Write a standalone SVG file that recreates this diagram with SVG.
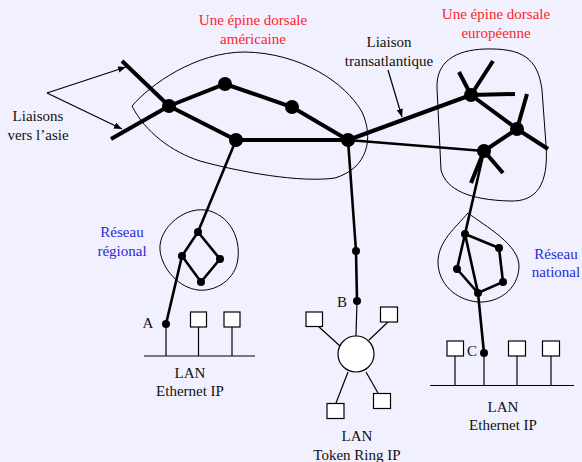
<svg xmlns="http://www.w3.org/2000/svg" width="582" height="462" viewBox="0 0 582 462">
<defs>
<style>
text{font-family:"Liberation Serif","Times New Roman",serif;font-size:15px;fill:#111;text-anchor:middle}
.red{fill:#ff1f1f}
.blue{fill:#2a2ad6}
.bb{stroke:#000;stroke-width:4;stroke-linecap:butt;fill:none}
.md{stroke:#000;stroke-width:2.6;fill:none}
.th{stroke:#000;stroke-width:1.2;fill:none}
.blob{stroke:#000;stroke-width:1;fill:none}
.box{stroke:#000;stroke-width:1.2;fill:#fff}
.big{fill:#000}
</style>
<marker id="ah" viewBox="0 0 10 10" refX="10" refY="5" markerWidth="8" markerHeight="8" orient="auto" markerUnits="userSpaceOnUse">
<path d="M0,1 L10,5 L0,9 Z" fill="#000"/>
</marker>
</defs>
<rect x="0" y="0" width="582" height="462" fill="#f0f0fe"/>

<g id="labels">
<text class="red" x="253" y="25">Une épine dorsale</text>
<text class="red" x="253" y="44">américaine</text>
<text class="red" x="496" y="19">Une épine dorsale</text>
<text class="red" x="496" y="38">européenne</text>
<text x="389" y="47">Liaison</text>
<text x="389" y="66">transatlantique</text>
<text x="38" y="121">Liaisons</text>
<text x="38" y="140">vers l’asie</text>
<text class="blue" x="122" y="237">Réseau</text>
<text class="blue" x="122" y="256">régional</text>
<text class="blue" x="556" y="259">Réseau</text>
<text class="blue" x="556" y="277">national</text>
</g>

<g id="american-backbone">
<path class="blob" d="M132,106 C150,85 195,52 245,52 C300,53 345,82 362,112 C374,138 368,168 335,178 C300,183 240,172 200,161 C172,152 145,132 132,106 Z"/>
</g>
<g id="european-backbone">
<path class="blob" d="M437,88 C436,62 455,50 485,49 C522,48 538,58 542,90 L546,145 C549,185 536,202 510,201 C470,200 446,190 441,170 Z"/>
</g>
<g id="regional-network">
<path class="blob" d="M210,211 C232,218 240,240 238,258 C236,280 215,292 198,290 C180,288 162,270 160,250 C158,228 186,204 210,211 Z"/>
</g>
<g id="national-network">
<path class="blob" d="M468,213 C485,226 520,245 519,267 C518,290 498,303 478,302 C455,300 438,283 438,262 C438,242 455,228 468,213 Z"/>
</g>

<g id="connectors">
<line class="bb" x1="122" y1="61" x2="169" y2="106"/>
<line class="bb" x1="111" y1="139" x2="169" y2="106"/>
<line class="th" x1="47" y1="93" x2="126" y2="67" marker-end="url(#ah)"/>
<line class="th" x1="47" y1="93" x2="122" y2="129" marker-end="url(#ah)"/>
<polyline class="bb" points="169,106 225,84 292,107 348,140"/>
<polyline class="bb" points="169,106 236,140 348,140"/>
<line class="bb" x1="348" y1="140" x2="471" y2="95"/>
<line class="md" x1="348" y1="140" x2="484" y2="151"/>
<line class="th" x1="388" y1="70" x2="402" y2="117" marker-end="url(#ah)"/>
<polyline class="bb" points="471,95 517,129 484,151"/>
<line class="bb" x1="471" y1="95" x2="459" y2="72"/>
<line class="bb" x1="471" y1="95" x2="493" y2="61"/>
<line class="bb" x1="471" y1="95" x2="515" y2="94"/>
<line class="bb" x1="517" y1="129" x2="527" y2="94"/>
<line class="bb" x1="517" y1="129" x2="548" y2="149"/>
<line class="bb" x1="484" y1="151" x2="503" y2="173"/>
<line class="bb" x1="484" y1="151" x2="471" y2="183"/>
<polyline class="md" points="236,140 198,232 182,256 166,324"/>
<polyline class="md" points="198,232 220,259 201,282 182,256"/>
<polyline class="md" points="348,140 356,251 357,301"/>
<line class="th" x1="357" y1="301" x2="356" y2="336"/>
<polyline class="md" points="484,151 465,234 478,293 484,353"/>
<polyline class="md" points="465,234 499,248 503,282 478,293 457,269 465,234"/>
<line class="th" x1="144" y1="356" x2="255" y2="356"/>
<line class="th" x1="166" y1="324" x2="166" y2="356"/>
<line class="th" x1="198.5" y1="327" x2="198.5" y2="356"/>
<line class="th" x1="232" y1="327" x2="232" y2="356"/>
<line class="th" x1="318" y1="326" x2="340" y2="346"/>
<line class="th" x1="388" y1="322" x2="369" y2="340"/>
<line class="th" x1="336" y1="403" x2="348" y2="372"/>
<line class="th" x1="378" y1="393" x2="366" y2="372"/>
<line class="th" x1="430" y1="385.5" x2="574" y2="385.5"/>
<line class="th" x1="455" y1="356" x2="455" y2="386"/>
<line class="th" x1="484" y1="353" x2="484" y2="386"/>
<line class="th" x1="517" y1="356" x2="517" y2="386"/>
<line class="th" x1="551" y1="356" x2="551" y2="386"/>
</g>

<g id="routers">
<circle class="big" cx="169" cy="106" r="7"/>
<circle class="big" cx="225" cy="84" r="7"/>
<circle class="big" cx="292" cy="107" r="7"/>
<circle class="big" cx="236" cy="140" r="7"/>
<circle class="big" cx="348" cy="140" r="7"/>
<circle class="big" cx="471" cy="95" r="7"/>
<circle class="big" cx="517" cy="129" r="7"/>
<circle class="big" cx="484" cy="151" r="7"/>
<circle class="big" cx="198" cy="232" r="4"/>
<circle class="big" cx="182" cy="256" r="4"/>
<circle class="big" cx="220" cy="259" r="4"/>
<circle class="big" cx="201" cy="282" r="4"/>
<circle class="big" cx="356" cy="251" r="4"/>
<circle class="big" cx="465" cy="234" r="4"/>
<circle class="big" cx="499" cy="248" r="4"/>
<circle class="big" cx="457" cy="269" r="4"/>
<circle class="big" cx="503" cy="282" r="4"/>
<circle class="big" cx="478" cy="293" r="4"/>
</g>

<g id="lan-a">
<circle class="big" cx="166" cy="324" r="4"/>
<text x="148" y="328">A</text>
<rect class="box" x="190.5" y="312" width="16" height="15"/>
<rect class="box" x="224" y="312" width="16" height="15"/>
<text x="190" y="378">LAN</text>
<text x="190" y="396">Ethernet IP</text>
</g>

<g id="lan-b">
<circle class="big" cx="357" cy="301" r="4"/>
<text x="342" y="307">B</text>
<circle cx="356" cy="354" r="18" fill="#fff" stroke="#000" stroke-width="1.2"/>
<rect class="box" x="306" y="312" width="16.5" height="14.5"/>
<rect class="box" x="380.5" y="307" width="17" height="15"/>
<rect class="box" x="327" y="403.5" width="17" height="15"/>
<rect class="box" x="373.5" y="393.5" width="17" height="15"/>
<text x="357" y="441">LAN</text>
<text x="357" y="460">Token Ring IP</text>
</g>

<g id="lan-c">
<circle class="big" cx="484" cy="353" r="4"/>
<text x="472" y="356">C</text>
<rect class="box" x="447" y="341" width="16.5" height="15"/>
<rect class="box" x="508.5" y="341" width="17" height="15"/>
<rect class="box" x="542.5" y="341" width="17" height="15"/>
<text x="503" y="412">LAN</text>
<text x="503" y="430">Ethernet IP</text>
</g>
</svg>
